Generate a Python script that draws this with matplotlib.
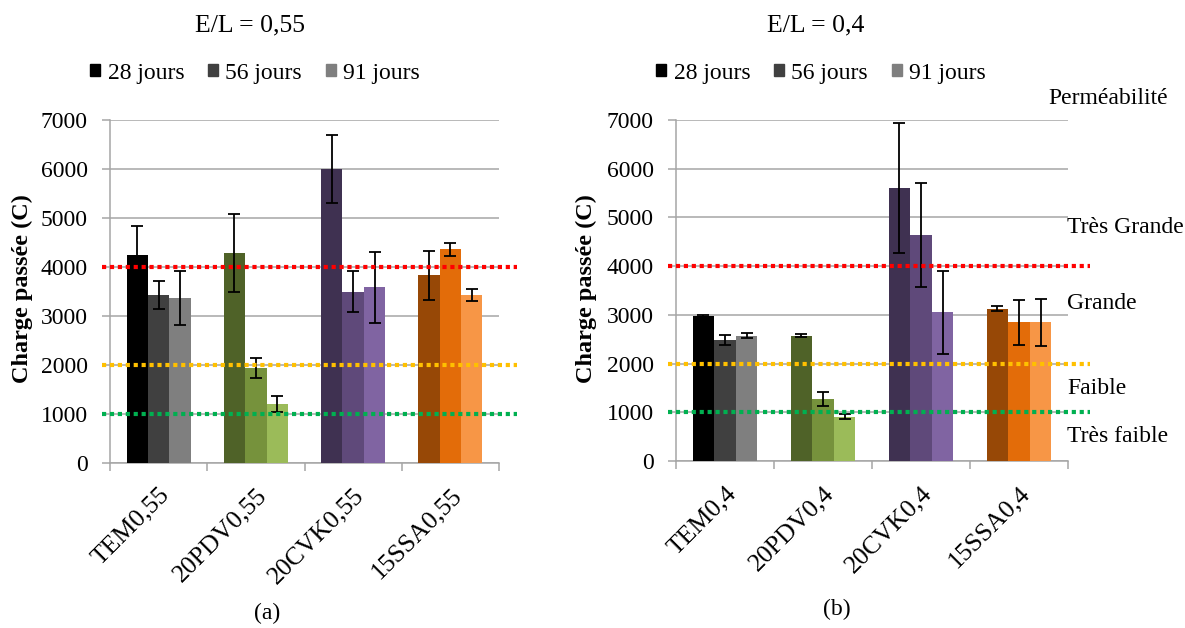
import matplotlib
matplotlib.use("Agg")
import matplotlib.pyplot as plt
from matplotlib.patches import Patch
import matplotlib.transforms as mtransforms
import numpy as np

# data
ages = ['28 jours', '56 jours', '91 jours']
labels_a = ['TEM0,55', '20PDV0,55', '20CVK0,55', '15SSA0,55']
labels_b = ['TEM0,4', '20PDV0,4', '20CVK0,4', '15SSA0,4']

# rows = mixes, columns = ages
vals_a = [[4250, 3430, 3375],
          [4285, 1940, 1210],
          [6000, 3500, 3585],
          [3830, 4360, 3430]]
err_a = [[590, 280, 550],
         [800, 200, 160],
         [700, 420, 720],
         [500, 130, 120]]

vals_b = [[2970, 2490, 2570],
          [2570, 1275, 905],
          [5610, 4645, 3055],
          [3130, 2845, 2845]]
err_b = [[30, 100, 50],
         [30, 150, 50],
         [1330, 1070, 850],
         [50, 470, 490]]

thresholds = [4000, 2000, 1000]
threshold_colors = ['#ff0000', '#ffc000', '#00b050']
classes = ['Très Grande', 'Grande', 'Faible', 'Très faible']

colors = [['#000000', '#404040', '#7f7f7f'],
          ['#4f6228', '#76923c', '#9bbb59'],
          ['#3f3151', '#5f497a', '#8064a2'],
          ['#974806', '#e36c09', '#f79646']]

W, H = 1185, 628
serif = 'Liberation Serif'
grid_c = '#a6a6a6'

fig = plt.figure(figsize=(W / 100, H / 100), dpi=100)


def px(x0, y0, x1, y1):
    return [x0 / W, 1 - y1 / H, (x1 - x0) / W, (y1 - y0) / H]


def draw_panel(ax, vals, errs, labels, line_ext):
    vals = np.array(vals)
    errs = np.array(errs)
    x = np.arange(len(labels))
    w = 0.22
    for j in range(3):
        for i in range(len(labels)):
            ax.bar(x[i] + (j - 1) * w, vals[i, j], width=w, color=colors[i][j],
                   zorder=3)
            ax.errorbar(x[i] + (j - 1) * w, vals[i, j], yerr=errs[i, j],
                        fmt='none', ecolor='black', elinewidth=1.3,
                        capsize=4.5, capthick=1.3, zorder=4)
    trans = mtransforms.blended_transform_factory(ax.transAxes, ax.transData)
    for t, c in zip(thresholds, threshold_colors):
        ax.plot([-0.02, line_ext], [t, t], transform=trans, color=c, lw=3.0,
                linestyle=(0, (1.0, 0.9)), dash_capstyle='butt', clip_on=False,
                zorder=5)
    ax.set_xlim(-0.5, len(labels) - 0.5)
    ax.set_ylim(0, 7000)
    ax.set_yticks(np.arange(0, 7001, 1000))
    ax.yaxis.grid(True, color=grid_c, lw=1.1, zorder=0)
    ax.set_axisbelow(True)
    for s in ['top', 'right']:
        ax.spines[s].set_visible(False)
    for s in ['left', 'bottom']:
        ax.spines[s].set_color(grid_c)
        ax.spines[s].set_linewidth(1.1)
    ax.set_xticks(x)
    ax.set_xticklabels(labels, rotation=45, ha='right', va='top',
                       rotation_mode='anchor', fontsize=18.5, family=serif)
    shift = mtransforms.ScaledTranslation(0.05, 0, fig.dpi_scale_trans)
    for t in ax.get_xticklabels():
        t.set_transform(t.get_transform() + shift)
    ax.set_xticks(np.arange(-0.5, len(labels)), minor=True)
    ax.tick_params(axis='x', which='major', length=0, pad=15)
    ax.tick_params(axis='x', which='minor', length=6, color=grid_c, width=1.1)
    ax.tick_params(axis='y', length=6, color=grid_c, width=1.1, pad=10)
    for t in ax.get_yticklabels():
        t.set_fontsize(17)
        t.set_family(serif)


ax_a = fig.add_axes(px(110, 120, 499, 463))
ax_b = fig.add_axes(px(676, 120, 1068, 461))
draw_panel(ax_a, vals_a, err_a, labels_a, 1.046)
draw_panel(ax_b, vals_b, err_b, labels_b, 1.056)

for cx in [22, 586]:
    fig.text(cx / W, 1 - 289 / H, 'Charge passée (C)', rotation=90,
             ha='center', va='center', fontsize=17.5, fontweight='bold',
             family=serif)

fig.text(250 / W, 1 - 25 / H, 'E/L = 0,55', ha='center', va='center',
         fontsize=18.5, family=serif)
fig.text(816 / W, 1 - 25 / H, 'E/L = 0,4', ha='center', va='center',
         fontsize=18.5, family=serif)

handles = [Patch(color=colors[0][j]) for j in range(3)]
for cx in [255, 821]:
    fig.legend(handles, ages, loc='center', bbox_to_anchor=(cx / W, 1 - 73 / H),
               ncol=3, frameon=False, handlelength=0.45, handleheight=0.45,
               handletextpad=0.3, columnspacing=1.0, borderpad=0,
               prop={'family': serif, 'size': 17})

fig.text(1108 / W, 1 - 99 / H, 'Perméabilité', ha='center', va='center',
         fontsize=17, family=serif)
for lab, yy in zip(classes, [228, 303, 389, 437]):
    fig.text(1067 / W, 1 - yy / H, lab, ha='left', va='center',
             fontsize=17, family=serif)

fig.text(267 / W, 1 - 613 / H, '(a)', ha='center', va='center',
         fontsize=17, family=serif)
fig.text(837 / W, 1 - 609 / H, '(b)', ha='center', va='center',
         fontsize=17, family=serif)

fig.savefig('out.png', dpi=100)
